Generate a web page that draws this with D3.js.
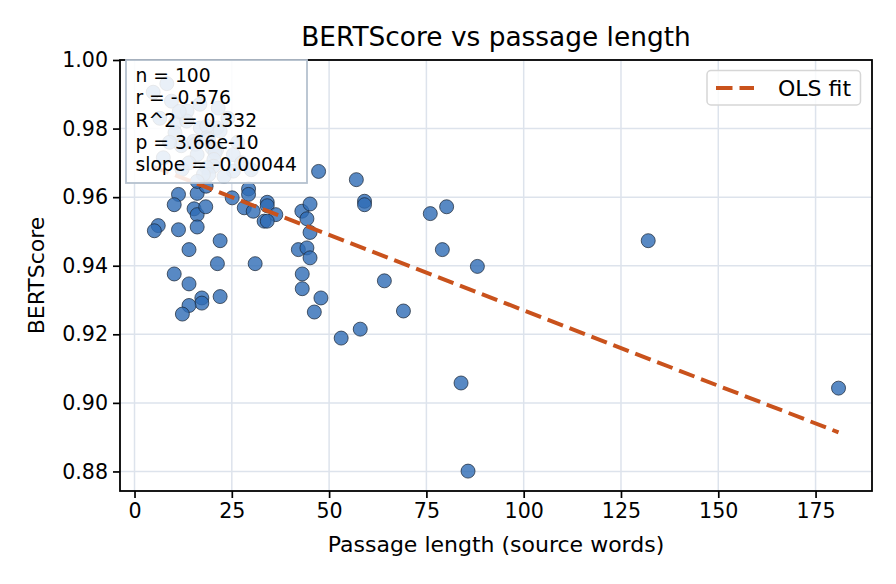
<!DOCTYPE html>
<html>
<head>
<meta charset="utf-8">
<script src="https://cdn.jsdelivr.net/npm/d3@7"></script>
<style>
  html, body { margin: 0; padding: 0; background: #fff; }
  svg { display: block; font-family: "DejaVu Sans", sans-serif; }
</style>
</head>
<body>
<svg id="chart" width="896" height="584"></svg>
<script>
// ---- data ----
const passageLength = [
  11.3, 16.1, 18.4, 10.2, 15.3, 16.1, 18.3, 6.1, 5.1, 11.3,
  16.1, 14.0, 22.0, 21.3, 31.0, 10.2, 14.0, 17.3, 17.3, 14.0,
  12.3, 22.0, 25.1, 29.3, 29.3, 28.2, 30.5, 34.1, 34.1, 36.3,
  33.3, 34.1, 43.0, 45.1, 44.3, 45.1, 42.1, 44.3, 45.1, 43.1,
  43.1, 47.9, 46.2, 58.0, 53.1, 57.0, 59.1, 59.1, 47.3, 64.2,
  69.1, 76.0, 80.2, 79.1, 88.1, 85.7, 83.9, 132.0, 180.9,
  4.8, 8.3, 9.5, 16.8, 13.5, 10.5, 13.4, 16.9, 21.2, 18.6,
  22.0, 10.4, 18.6, 19.0, 15.2, 15.6, 19.9, 21.1, 20.7, 16.1,
  25.4, 7.4, 20.4, 20.3, 18.6, 12.2, 25.4, 19.1, 17.7, 16.1,
  12.0, 24.0, 27.5, 14.0, 9.0, 23.0, 30.0, 11.5, 26.5, 6.5, 21.5
];
const bertScore = [
  0.9608, 0.9611, 0.9632, 0.9578, 0.9566, 0.9549, 0.9572, 0.9517, 0.9502, 0.9505,
  0.9513, 0.9447, 0.9473, 0.9406, 0.9406, 0.9376, 0.9347, 0.9306, 0.9291, 0.9284,
  0.9259, 0.9310, 0.9598, 0.9624, 0.9608, 0.9569, 0.9559, 0.9585, 0.9575, 0.9549,
  0.9530, 0.9530, 0.9559, 0.9580, 0.9537, 0.9497, 0.9447, 0.9452, 0.9423, 0.9376,
  0.9333, 0.9306, 0.9265, 0.9215, 0.9189, 0.9651, 0.9588, 0.9578, 0.9675, 0.9356,
  0.9268, 0.9552, 0.9572, 0.9447, 0.9398, 0.8801, 0.9058, 0.9473, 0.9043,
  0.9906, 0.9931, 0.9880, 0.9871, 0.9851, 0.9817, 0.9822, 0.9802, 0.9802, 0.9807,
  0.9793, 0.9788, 0.9773, 0.9768, 0.9763, 0.9754, 0.9744, 0.9739, 0.9729, 0.9724,
  0.9724, 0.9715, 0.9710, 0.9690, 0.9686, 0.9681, 0.9676, 0.9666, 0.9666, 0.9646,
  0.9750, 0.9830, 0.9700, 0.9700, 0.9760, 0.9660, 0.9680, 0.9850, 0.9760, 0.9830, 0.9860
];
const olsIntercept = 0.9710;
const olsSlope = -0.00044;
const xTicks = [0, 25, 50, 75, 100, 125, 150, 175];
const yTicks = [0.88, 0.90, 0.92, 0.94, 0.96, 0.98, 1.00];
const statsLines = ["n = 100", "r = -0.576", "R^2 = 0.332", "p = 3.66e-10", "slope = -0.00044"];
const titleText = "BERTScore vs passage length";
const xLabelText = "Passage length (source words)";
const yLabelText = "BERTScore";
const legendLabel = "OLS fit";

// ---- layout ----
const L = 120, R = 872, T = 60, B = 491;
const svg = d3.select("#chart");

const x = d3.scaleLinear().domain([-3.73, 189.5]).range([L, R]);
const y = d3.scaleLinear().domain([0.8743, 1.0]).range([B, T]);

const gridColor = "#dde3ec";
const fitColor = "#c9521c";

// grid
const grid = svg.append("g");
grid.selectAll(".gx").data(xTicks).join("line")
  .attr("x1", d => x(d)).attr("x2", d => x(d))
  .attr("y1", T).attr("y2", B)
  .attr("stroke", gridColor).attr("stroke-width", 1.5);
grid.selectAll(".gy").data(yTicks).join("line")
  .attr("x1", L).attr("x2", R)
  .attr("y1", d => y(d)).attr("y2", d => y(d))
  .attr("stroke", gridColor).attr("stroke-width", 1.5);

// points
const pts = passageLength.map((v, i) => ({ x: v, y: bertScore[i] }));
svg.append("g").selectAll("circle").data(pts).join("circle")
  .attr("cx", d => x(d.x)).attr("cy", d => y(d.y)).attr("r", 7)
  .attr("fill", "#2e6bb5").attr("fill-opacity", 0.8)
  .attr("stroke", "#1b2535").attr("stroke-opacity", 0.8).attr("stroke-width", 0.9);

// regression line
const xMin = d3.min(passageLength), xMax = d3.max(passageLength);
const fit = [xMin, xMax].map(v => ({ x: v, y: olsIntercept + olsSlope * v }));
svg.append("path")
  .attr("d", d3.line().x(d => x(d.x)).y(d => y(d.y))(fit))
  .attr("fill", "none").attr("stroke", fitColor).attr("stroke-width", 4)
  .attr("stroke-dasharray", "16.5,7");

// axes
const xAxis = svg.append("g").attr("transform", `translate(0,${B})`)
  .call(d3.axisBottom(x).tickValues(xTicks).tickFormat(d3.format("d")).tickSize(7).tickPadding(5));
const yAxis = svg.append("g").attr("transform", `translate(${L},0)`)
  .call(d3.axisLeft(y).tickValues(yTicks).tickFormat(d3.format(".2f")).tickSize(7).tickPadding(5));
[xAxis, yAxis].forEach(a => {
  a.select(".domain").remove();
  a.selectAll(".tick line").attr("stroke", "#000").attr("stroke-width", 1.7);
  a.selectAll(".tick text").attr("fill", "#000")
    .style("font-family", "DejaVu Sans").style("font-size", "20.6px");
});

// spines
svg.append("rect").attr("x", L).attr("y", T).attr("width", R - L).attr("height", B - T)
  .attr("fill", "none").attr("stroke", "#000").attr("stroke-width", 1.8);

// stats box
const sb = svg.append("g");
sb.append("rect").attr("x", 126).attr("y", 60).attr("width", 181).attr("height", 123)
  .attr("fill", "#fff").attr("fill-opacity", 0.87)
  .attr("stroke", "#b5c1cf").attr("stroke-width", 1.8);
sb.selectAll("text").data(statsLines).join("text")
  .attr("x", 135.5).attr("y", (d, i) => 82 + i * 22.3)
  .attr("font-size", "18.7px").attr("fill", "#000").text(d => d);

// legend
const lg = svg.append("g");
lg.append("rect").attr("x", 707).attr("y", 70.5).attr("width", 153.5).attr("height", 34.5)
  .attr("rx", 4).attr("fill", "#fff").attr("fill-opacity", 0.8)
  .attr("stroke", "#d6d6d6").attr("stroke-width", 1.5);
lg.append("line").attr("x1", 716).attr("x2", 754).attr("y1", 88).attr("y2", 88)
  .attr("stroke", fitColor).attr("stroke-width", 4).attr("stroke-dasharray", "16.5,7");
lg.append("text").attr("x", 778).attr("y", 96).attr("font-size", "22px").attr("fill", "#000").text(legendLabel);

// title & labels
svg.append("text").attr("x", (L + R) / 2).attr("y", 46).attr("text-anchor", "middle")
  .attr("font-size", "26.4px").attr("fill", "#000").text(titleText);
svg.append("text").attr("x", (L + R) / 2).attr("y", 552).attr("text-anchor", "middle")
  .attr("font-size", "22px").attr("fill", "#000").text(xLabelText);
svg.append("text").attr("transform", `translate(44,${(T + B) / 2}) rotate(-90)`)
  .attr("text-anchor", "middle").attr("font-size", "22px").attr("fill", "#000").text(yLabelText);
</script>
</body>
</html>
